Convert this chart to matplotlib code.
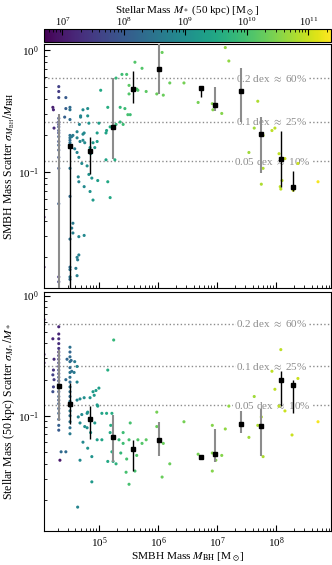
import numpy as np
import matplotlib
matplotlib.use("Agg")
import matplotlib.pyplot as plt
from matplotlib.colors import LogNorm
from matplotlib.ticker import NullFormatter, LogLocator

plt.rcParams['font.family'] = 'serif'
plt.rcParams['font.serif'] = ['Liberation Serif', 'DejaVu Serif']
plt.rcParams['mathtext.fontset'] = 'stix'
plt.rcParams['font.size'] = 8

# ---- top panel points: log10 M_BH, log10 scatter, log10 M_* ----
bh_top = ([4.32] * 18 + [4.22, 4.23, 4.24, 4.07, 4.07] + [4.51] * 16 + [4.44, 4.44, 4.42]
          + [4.56, 4.54, 4.56, 4.66, 4.75, 4.66, 4.63, 4.64, 4.61, 4.63]
          + [4.67, 4.75, 4.83, 4.63, 4.68, 4.59, 4.63, 4.66, 4.71, 4.80, 4.65, 4.66, 4.75, 4.85, 4.90,
             4.83, 4.76, 4.90, 4.93, 4.97, 4.73, 4.85, 4.86, 4.88, 4.98, 4.56, 4.54, 5.15, 5.19, 5.13,
             5.12, 5.00, 4.81, 4.69, 5.29, 5.41, 5.36, 5.49, 4.97]
          + [5.03, 5.15, 4.81, 4.73, 4.69, 5.29, 5.36, 4.63, 4.73]
          + [5.39, 5.47, 5.61, 5.73, 5.51, 5.51, 5.64, 5.66, 5.80, 5.98, 6.09, 6.07, 5.44, 5.53, 5.19,
             5.12, 5.27]
          + [6.20, 6.44, 7.14, 7.20, 6.68, 6.92, 6.93, 6.98, 7.08, 7.69, 7.63, 7.93, 7.98, 7.54, 7.78,
             7.78, 7.75, 8.05, 8.15, 8.10, 8.08, 8.07, 8.37, 8.29, 8.71])
sig_top = ([-0.30, -0.34, -0.39, -0.56, -0.59, -0.61, -0.63, -0.66, -0.68, -0.71, -0.75, -0.78, -0.82,
            -0.88, -0.97, -1.26, -1.86, -1.90]
           + [-0.47, -0.49, -0.64, -1.37, -1.78]
           + [-0.47, -0.49, -0.57, -0.70, -0.72, -0.74, -0.76, -0.78, -0.80, -0.97, -1.20, -1.55, -1.78,
              -1.80, -1.86, -1.88]
           + [-0.39, -0.48, -0.55]
           + [-1.42, -1.46, -1.50, -1.53, -1.52, -1.68, -1.70, -1.72, -1.79, -1.85]
           + [-0.61, -0.68, -0.60, -0.72, -0.75, -0.81, -0.84, -0.88, -0.93, -0.95, -1.04, -1.08, -1.12,
              -1.16, -1.23, -1.02, -0.76, -0.76, -0.80, -0.68, -0.74, -0.80, -0.85, -1.05, -1.07, -0.70,
              -0.71, -1.08, -1.21, -0.66, -0.68, -0.60, -0.54, -0.54, -0.61, -0.61, -0.59, -0.53, -0.75]
           + [-0.33, -0.47, -0.48, -0.49, -0.55, -0.23, -0.47, -0.67, -0.69]
           + [-0.20, -0.20, -0.10, -0.15, -0.29, -0.36, -0.32, -0.33, -0.34, -0.36, -0.37, -0.02, -0.48,
              -0.53, -0.63, -0.90, -0.90]
           + [-0.27, -0.27, 0.02, -0.09, -0.43, -0.44, -0.49, -0.46, -0.52, -0.42, -0.64, -0.66, -0.64,
              -0.84, -0.70, -0.97, -1.10, -0.85, -0.89, -1.07, -1.14, -1.12, -0.93, -1.15, -1.08])
ms_top = ([7.6, 7.5, 7.7, 7.8, 7.6, 7.7, 7.9, 7.8, 7.7, 7.9, 7.8, 8.0, 7.9, 7.8, 7.9, 8.0, 7.4, 7.6]
          + [7.1, 7.2, 7.3, 6.9, 7.0]
          + [8.3, 8.4, 8.3, 8.4, 8.5, 8.3, 8.4, 8.5, 8.4, 8.5, 8.3, 8.4, 8.3, 8.4, 8.5, 8.3]
          + [8.0, 8.1, 8.1]
          + [8.6, 8.6, 8.7, 8.8, 8.9, 8.7, 8.7, 8.6, 8.6, 8.7]
          + [8.8, 8.9, 9.1, 8.8, 8.8, 8.6, 8.8, 8.8, 8.9, 9.0, 8.8, 8.8, 8.9, 9.1, 9.2, 9.1, 8.9, 9.2,
             9.2, 9.3, 8.9, 9.1, 9.1, 9.1, 9.3, 8.6, 8.6, 9.5, 9.5, 9.4, 9.4, 9.3, 9.1, 8.8, 9.8, 9.9,
             9.8, 10.0, 9.3]
          + [9.5, 9.6, 9.0, 8.9, 8.8, 9.8, 9.8, 8.8, 8.9]
          + [9.9, 10.0, 10.1, 10.1, 10.2, 10.1, 10.1, 10.1, 10.2, 10.3, 10.3, 10.3, 9.9, 9.9, 9.6, 9.4,
             9.6]
          + [10.3, 10.4, 10.6, 10.6, 10.4, 10.5, 10.5, 10.5, 10.5, 10.8, 10.7, 10.9, 10.9, 10.7, 10.8,
             10.8, 10.8, 10.9, 11.0, 10.9, 10.9, 10.9, 11.0, 11.0, 11.3])

# ---- bottom panel points ----
bh_bot = ([4.32] * 25 + [4.22, 4.24, 4.23, 4.22, 4.24, 4.23, 4.22, 4.07, 4.07, 4.07]
          + [4.36, 4.44, 4.34] + [4.51] * 18 + [4.46, 4.53, 4.54, 4.44, 4.59, 4.58]
          + [4.63, 4.63, 4.68, 4.75, 4.68, 4.76, 4.80, 4.86, 4.73, 4.81, 4.88, 4.68, 4.88, 4.64, 4.95,
             5.00, 4.97, 4.93, 4.97, 4.80, 4.92, 4.85, 4.71, 4.65]
          + [5.05, 5.13, 5.22, 5.20, 5.19, 5.05, 5.22, 5.15, 5.24, 5.29, 5.34, 5.41, 5.41, 5.37, 5.47,
             5.46, 5.51, 5.53, 5.51, 5.66, 5.80, 5.73, 5.64, 5.61, 4.98, 4.81]
          + [5.25, 5.15, 5.98, 5.98, 6.09, 6.07, 4.90, 4.63]
          + [6.20, 6.44, 6.68, 6.92, 6.92, 6.92, 6.98, 7.08, 7.14, 7.20, 7.54, 7.63, 7.69, 7.75, 7.78,
             7.93, 7.98, 8.05, 8.08, 8.15, 8.27, 8.37, 8.71])
sig_bot = ([-0.26, -0.32, -0.36, -0.40, -0.44, -0.47, -0.50, -0.53, -0.56, -0.59, -0.62, -0.65, -0.68,
            -0.71, -0.74, -0.77, -0.80, -0.84, -0.87, -0.90, -0.94, -0.98, -1.03, -1.08, -1.12]
           + [-0.36, -0.53, -0.62, -0.66, -0.70, -0.76, -0.80, -0.20, -0.49, -0.56]
           + [-1.30, -1.30, -1.37]
           + [-0.43, -0.47, -0.51, -0.55, -0.60, -0.64, -0.68, -0.72, -0.76, -0.80, -0.84, -0.88, -0.92,
              -0.96, -1.00, -1.05, -1.10, -1.15]
           + [-0.53, -0.54, -0.63, -0.70, -0.55, -0.64]
           + [-0.72, -0.87, -0.86, -0.85, -1.06, -1.09, -1.10, -1.14, -1.22, -1.27, -1.34, -1.37, -1.55,
              -1.76, -0.79, -0.77, -0.91, -1.06, -1.20, -0.98, -0.83, -0.85, -0.99, -1.01]
           + [-0.98, -0.98, -0.98, -1.08, -1.14, -1.20, -1.30, -1.38, -1.38, -1.40, -1.20, -1.14, -1.23,
              -1.31, -1.36, -1.47, -1.57, -1.06, -1.20, -1.20, -1.20, -1.23, -1.33, -1.46, -0.92, -0.97]
           + [-0.37, -0.62, -0.97, -1.09, -1.23, -1.51, -0.80, -0.59]
           + [-1.40, -1.05, -1.32, -1.08, -1.31, -1.46, -1.37, -1.33, -1.11, -0.92, -1.18, -0.84, -1.08,
              -1.01, -1.34, -0.63, -0.78, -0.92, -0.45, -0.96, -1.16, -0.69, -1.05])
ms_bot = ([7.2, 7.2, 7.3, 7.3, 7.4, 7.3, 7.5, 7.4, 7.6, 7.5, 7.7, 7.6, 7.8, 7.7, 7.9, 7.8, 7.9, 8.0,
           7.9, 8.0, 8.0, 8.1, 8.0, 8.1, 8.0]
          + [7.2, 7.3, 7.4, 7.6, 7.5, 7.6, 7.8, 6.9, 7.0, 7.0]
          + [8.3, 8.3, 7.0]
          + [8.4, 8.2, 8.3, 8.4, 8.3, 8.5, 8.4, 8.3, 8.5, 8.4, 8.3, 8.5, 8.4, 8.6, 8.4, 8.5, 8.4, 8.6]
          + [8.2, 8.3, 8.4, 8.3, 8.6, 8.6]
          + [8.8, 8.8, 8.9, 9.0, 8.9, 9.0, 9.0, 9.1, 8.9, 9.1, 9.1, 8.9, 9.2, 8.8, 9.3, 9.3, 9.2, 9.2,
             9.3, 9.0, 9.2, 9.1, 8.9, 8.8]
          + [9.4, 9.5, 9.6, 9.6, 9.5, 9.4, 9.6, 9.5, 9.6, 9.7, 9.8, 9.9, 9.9, 9.8, 10.0, 10.0, 10.0,
             10.0, 10.0, 10.1, 10.2, 10.1, 10.1, 10.0, 9.3, 9.1]
          + [9.8, 9.6, 10.4, 10.3, 10.3, 10.3, 9.2, 8.8]
          + [10.3, 10.4, 10.4, 10.5, 10.5, 10.5, 10.5, 10.5, 10.6, 10.6, 10.7, 10.7, 10.8, 10.8, 10.8,
             10.9, 10.9, 10.9, 10.9, 11.0, 11.0, 11.0, 11.3])

# ---- binned medians and ranges ----
bin_bh = [4.32, 4.51, 4.85, 5.24, 5.58, 6.02, 6.73, 6.97, 7.41, 7.75, 8.08, 8.29]
gray_bins = [0, 3, 5, 7, 8, 9]

med_top = [0.008, 0.163, 0.149, 0.234, 0.479, 0.70, 0.49, 0.354, 0.461, 0.205, 0.128, 0.075]
lo_top = [0.005, 0.005, 0.096, 0.128, 0.367, 0.435, 0.41, 0.316, 0.257, 0.098, 0.075, 0.070]
hi_top = [0.30, 0.170, 0.194, 0.59, 0.673, 1.5, 0.49, 0.50, 0.71, 0.282, 0.217, 0.102]

med_bot = [0.178, 0.126, 0.094, 0.067, 0.053, 0.063, 0.045, 0.048, 0.086, 0.082, 0.200, 0.181]
lo_bot = [0.09, 0.086, 0.064, 0.041, 0.035, 0.046, 0.045, 0.041, 0.072, 0.046, 0.121, 0.106]
hi_bot = [0.35, 0.188, 0.121, 0.102, 0.063, 0.088, 0.045, 0.078, 0.110, 0.114, 0.237, 0.200]

dex_levels = [0.2, 0.1, 0.05]
dex_labels = [r'0.2 dex $\approx$ 60%', r'0.1 dex $\approx$ 25%', r'0.05 dex $\approx$ 10%']

norm = LogNorm(vmin=10**6.7, vmax=10**11.37)

fig = plt.figure(figsize=(3.32, 5.65), dpi=100)
ax1 = fig.add_axes([0.1325, 0.4903, 0.8645, 0.4318])
ax2 = fig.add_axes([0.1325, 0.0602, 0.8645, 0.4230])
cax = fig.add_axes([0.1325, 0.9257, 0.8645, 0.023])


def draw_panel(ax, bh, sig, ms, med, lo, hi, ylim):
    sc = ax.scatter(10**np.array(bh), 10**np.array(sig), c=10**np.array(ms), cmap='viridis',
                    norm=norm, s=5, linewidths=0, zorder=2)
    for i, x in enumerate(bin_bh):
        col = '0.55' if i in gray_bins else 'k'
        lw = 1.5 if i in gray_bins else 1.0
        ax.plot([10**x, 10**x], [lo[i], hi[i]], color=col, lw=lw, zorder=3, solid_capstyle='butt')
    ax.plot(10**np.array(bin_bh), med, 's', color='k', ms=2.8, zorder=4)
    for lev, lab in zip(dex_levels, dex_labels):
        yv = 10**lev - 1
        ax.axhline(yv, color='0.55', ls=':', lw=1.0, zorder=1)
        ax.text(10**7.93, yv, lab, color='0.55', fontsize=8, ha='center', va='center', zorder=1.5,
                bbox=dict(facecolor='white', edgecolor='none', pad=0.5))
    ax.set_xscale('log')
    ax.set_yscale('log')
    ax.set_xlim(10**4.07, 10**8.93)
    ax.set_ylim(*ylim)
    ax.tick_params(which='both', direction='in', top=False, right=False)
    ax.tick_params(which='major', length=4.5, width=0.8)
    ax.tick_params(which='minor', length=2.5, width=0.6)
    ax.yaxis.set_minor_formatter(NullFormatter())
    ax.xaxis.set_minor_locator(LogLocator(base=10, subs=np.arange(2, 10)))
    ax.xaxis.set_minor_formatter(NullFormatter())
    return sc


sc = draw_panel(ax1, bh_top, sig_top, ms_top, med_top, lo_top, hi_top, (0.0112, 1.12))
draw_panel(ax2, bh_bot, sig_bot, ms_bot, med_bot, lo_bot, hi_bot, (0.0110, 1.07))
ax1.tick_params(labelbottom=False)

ax1.set_ylabel(r'SMBH Mass Scatter $\sigma_{M_{\rm BH}}/M_{\rm BH}$', fontsize=8.5)
ax2.set_ylabel(r'Stellar Mass (50 kpc) Scatter $\sigma_{M_*}/M_*$', fontsize=8.5)
ax2.set_xlabel(r'SMBH Mass $M_{\rm BH}$ [M$_\odot$]', fontsize=8.2, labelpad=0)
ax1.yaxis.set_label_coords(-0.095, 0.5)
ax2.yaxis.set_label_coords(-0.095, 0.5)

cb = fig.colorbar(sc, cax=cax, orientation='horizontal')
cax.xaxis.set_ticks_position('top')
cax.xaxis.set_label_position('top')
cax.tick_params(which='both', direction='in', labelsize=7.5)
cax.tick_params(which='major', length=4, pad=1)
cax.tick_params(which='minor', length=2)
cb.set_label(r'Stellar Mass $M_*$ (50 kpc) [M$_\odot$]', fontsize=8, labelpad=2)

fig.savefig('out.png', dpi=100)
